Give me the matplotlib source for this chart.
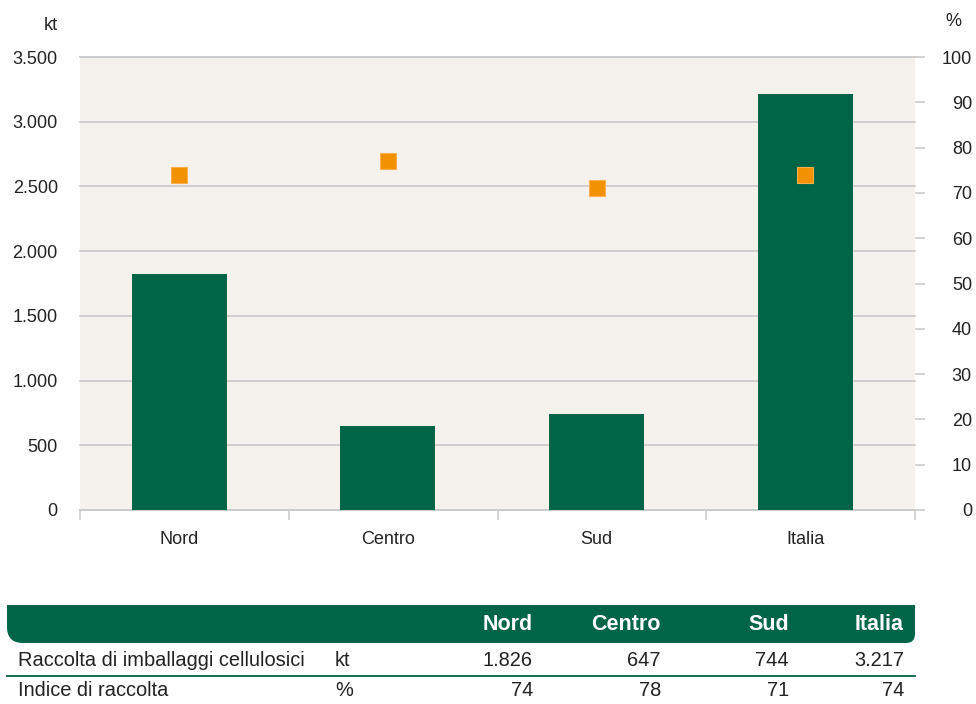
import matplotlib.pyplot as plt
from matplotlib.patches import PathPatch
from matplotlib.path import Path

plt.rcParams["font.family"] = ["Liberation Sans", "DejaVu Sans"]

regioni = ["Nord", "Centro", "Sud", "Italia"]
raccolta_kt = [1826, 647, 744, 3217]
indice_pct = [74, 77, 71, 74]

tabella_raccolta = ["1.826", "647", "744", "3.217"]
tabella_indice = ["74", "78", "71", "74"]

kt_ticks = [0, 500, 1000, 1500, 2000, 2500, 3000, 3500]
kt_labels = ["0", "500", "1.000", "1.500", "2.000", "2.500", "3.000", "3.500"]
pct_ticks = list(range(0, 101, 10))

GREEN = "#006446"
ORANGE = "#f39200"
BG = "#f5f2ed"
GRID = "#cccccc"
TEXT = "#222222"

W, H = 976, 704


def fx(x):
    return x / W


def fy(y):
    return 1 - y / H


fig = plt.figure(figsize=(W / 100, H / 100), dpi=100)

ax = fig.add_axes([fx(80), fy(510), fx(915) - fx(80), fy(57) - fy(510)])
ax.set_facecolor(BG)

# groups sit a little left of the middle of each slot
x = [i - 0.025 for i in range(len(regioni))]
ax.bar(x, raccolta_kt, width=0.455, color=GREEN, zorder=3)

ax.set_xlim(-0.5, len(regioni) - 0.5)
ax.set_ylim(0, 3500)
ax.set_yticks(kt_ticks)
ax.set_yticklabels(kt_labels)
ax.yaxis.grid(True, color=GRID, linewidth=1.3, zorder=0, clip_on=False)
ax.tick_params(axis="y", length=0, pad=16, labelsize=13, labelcolor=TEXT)

ax.set_xticks(x)
ax.set_xticklabels(regioni)
ax.set_xticks([i - 0.5 for i in range(len(regioni) + 1)], minor=True)
ax.tick_params(axis="x", which="major", length=0, pad=15, labelsize=13, labelcolor=TEXT)
ax.tick_params(axis="x", which="minor", length=7, width=1.2, color=GRID)

for side in ["left", "right", "top"]:
    ax.spines[side].set_visible(False)
ax.spines["bottom"].set_color(GRID)
ax.spines["bottom"].set_linewidth(1.3)

ax2 = ax.twinx()
ax2.set_ylim(0, 100)
ax2.set_yticks(pct_ticks)
ax2.tick_params(axis="y", length=7, width=1.2, color=GRID, pad=34, labelsize=13, labelcolor=TEXT)
for label in ax2.get_yticklabels():
    label.set_horizontalalignment("right")
for side in ["left", "right", "bottom"]:
    ax2.spines[side].set_visible(False)
ax2.spines["top"].set_color(GRID)
ax2.spines["top"].set_linewidth(1.3)
ax2.plot(x, indice_pct, linestyle="none", marker="s", markersize=11,
         color=ORANGE, markeredgecolor="#f7b04d", markeredgewidth=0.8, zorder=4)

fig.text(fx(58), fy(25), "kt", ha="right", va="center", fontsize=13, color=TEXT)
fig.text(fx(945), fy(22), "%", ha="left", va="center", fontsize=13, color=TEXT)

# header of the table: green band with rounded lower corners
x0, x1, y0, y1 = 7, 915, 605, 643
r_left, r_right = 16, 9
pts = [
    (x0, y0), (x1, y0), (x1, y1 - r_right), (x1, y1), (x1 - r_right, y1),
    (x0 + r_left, y1), (x0, y1), (x0, y1 - r_left), (x0, y0),
]
codes = [
    Path.MOVETO, Path.LINETO, Path.LINETO, Path.CURVE3, Path.CURVE3,
    Path.LINETO, Path.CURVE3, Path.CURVE3, Path.CLOSEPOLY,
]
header = PathPatch(Path([(fx(a), fy(b)) for a, b in pts], codes),
                   facecolor=GREEN, edgecolor="none", transform=fig.transFigure)
fig.patches.append(header)

col_right = [533, 661, 789, 904]
for name, xr in zip(regioni, col_right):
    fig.text(fx(xr), fy(625), name, ha="right", va="center", fontsize=15.5,
             fontweight="bold", color="white")

fig.text(fx(18), fy(660), "Raccolta di imballaggi cellulosici", ha="left",
         va="center", fontsize=14.4, color=TEXT)
fig.text(fx(335), fy(660), "kt", ha="left", va="center", fontsize=14.4, color=TEXT)
for val, xr in zip(tabella_raccolta, col_right):
    fig.text(fx(xr), fy(660), val, ha="right", va="center", fontsize=14.4, color=TEXT)

fig.add_artist(plt.Line2D([fx(7), fx(915)], [fy(676), fy(676)], color=GREEN,
                          linewidth=1.3, transform=fig.transFigure))

fig.text(fx(18), fy(691), "Indice di raccolta", ha="left", va="center",
         fontsize=14.4, color=TEXT)
fig.text(fx(335), fy(691), "%", ha="left", va="center", fontsize=14.4, color=TEXT)
for val, xr in zip(tabella_indice, col_right):
    fig.text(fx(xr), fy(691), val, ha="right", va="center", fontsize=14.4, color=TEXT)

fig.savefig("out.png", dpi=100)
